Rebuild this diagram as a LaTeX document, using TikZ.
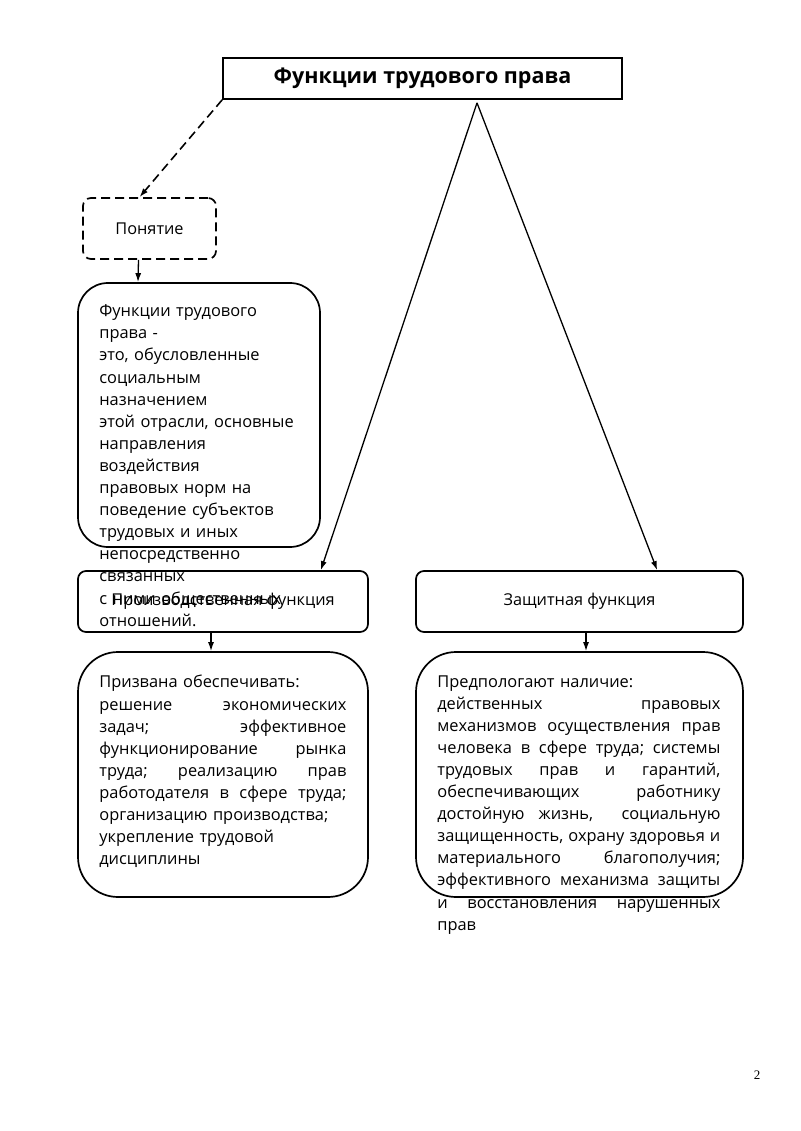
\documentclass[tikz,border=0pt]{standalone}
\usepackage{fontspec}
\setmainfont{Open Sans}
\newfontfamily\pagefont{Liberation Serif}
\usetikzlibrary{calc,arrows.meta}

\begin{document}
\begin{tikzpicture}[x=1pt,y=-1pt]
        \tikzstyle{box} = [draw, line width=1.7pt, inner sep=0pt, rounded corners=8pt]
        \tikzstyle{txt} = [anchor=north west, inner sep=0pt, align=left, font=\fontsize{16.4}{22.1}\selectfont]
        \tikzstyle{arr} = [-{Latex[length=9pt,width=6pt]}, line width=1.3pt]
        \useasboundingbox (0,0) rectangle (800,1131);

        \node[box, rounded corners=0pt, minimum width=399, minimum height=41, font=\fontsize{21.5}{24}\bfseries] (title) at (422.5,78.5) {Функции трудового права};
        \node[box, dash pattern=on 9pt off 5pt, minimum width=133, minimum height=61, font=\fontsize{16.3}{20}\selectfont] (concept) at (149.5,228.5) {Понятие};
        \node[box, rounded corners=30pt, minimum width=242, minimum height=264] (defin) at (199,415) {};
        \node[txt, text width=215pt] (defintext) at ($(defin.north west)+(22,22.5)$) {Функции трудового\\ права -\\ это, обусловленные\\ социальным\\ назначением\\ этой отрасли, основные\\ направления\\ воздействия\\ правовых норм на\\ поведение субъектов\\ трудовых и иных\\ непосредственно\\ связанных\\ с ними общественных\\ отношений.};

        \node[box, minimum width=290, minimum height=61, font=\fontsize{16.3}{20}\selectfont] (prod) at (223,601.5) {Производственная функция};
        \node[box, minimum width=327, minimum height=61, font=\fontsize{16.3}{20}\selectfont] (prot) at (579.5,601.5) {Защитная функция};

        \node[box, rounded corners=40pt, minimum width=290, minimum height=245] (prodbox) at (223,774.5) {};
        \node[txt, text width=247pt] (prodtext) at ($(prodbox.north west)+(22,24)$) {Призвана обеспечивать:\\
                решение\hfill экономических\\ задач;\hfill эффективное\\
                функционирование\hfill рынка\\ труда;\hfill реализацию\hfill прав\\
                работодателя\hfill в\hfill сфере\hfill труда;\\ организацию производства;\\
                укрепление трудовой\\ дисциплины};

        \node[box, rounded corners=40pt, minimum width=327, minimum height=245] (protbox) at (579.5,774.5) {};
        \node[txt, text width=283pt] (prottext) at ($(protbox.north west)+(22,24)$) {Предпологают наличие:\\
                действенных\hfill правовых\\ механизмов\hfill осуществления\hfill прав\\
                человека\hfill в\hfill сфере\hfill труда;\hfill системы\\ трудовых\hfill прав\hfill и\hfill гарантий,\\
                обеспечивающих\hfill работнику\\ достойную\hfill жизнь,\hfill\hfill социальную\\
                защищенность,\hfill охрану\hfill здоровья\hfill и\\ материального\hfill благополучия;\\
                эффективного\hfill механизма\hfill защиты\\ и\hfill восстановления\hfill нарушенных\\
                прав};

        % connectors
        \coordinate (apex) at ($(title.south)+(54.5,3)$);
        \draw[arr, line width=1.6pt, dash pattern=on 9pt off 5pt] (title.south west) -- ($(concept.north)+(-10,0)$);
        \draw[arr] ($(concept.south)+(-11,0)$) -- ($(defin.north)+(-61,0)$);
        \draw[arr] (apex) -- ($(prod.north east)+(-48,0)$);
        \draw[arr] (apex) -- ($(prot.north west)+(242,0)$);
        \draw[arr] ($(prod.south)+(-12,0)$) -- ($(prodbox.north)+(-12,0)$);
        \draw[arr] ($(prot.south)+(6.5,0)$) -- ($(protbox.north)+(6.5,0)$);

        \node[font=\pagefont\fontsize{13}{15}\selectfont] (page) at (757,1075) {2};
\end{tikzpicture}
\end{document}
